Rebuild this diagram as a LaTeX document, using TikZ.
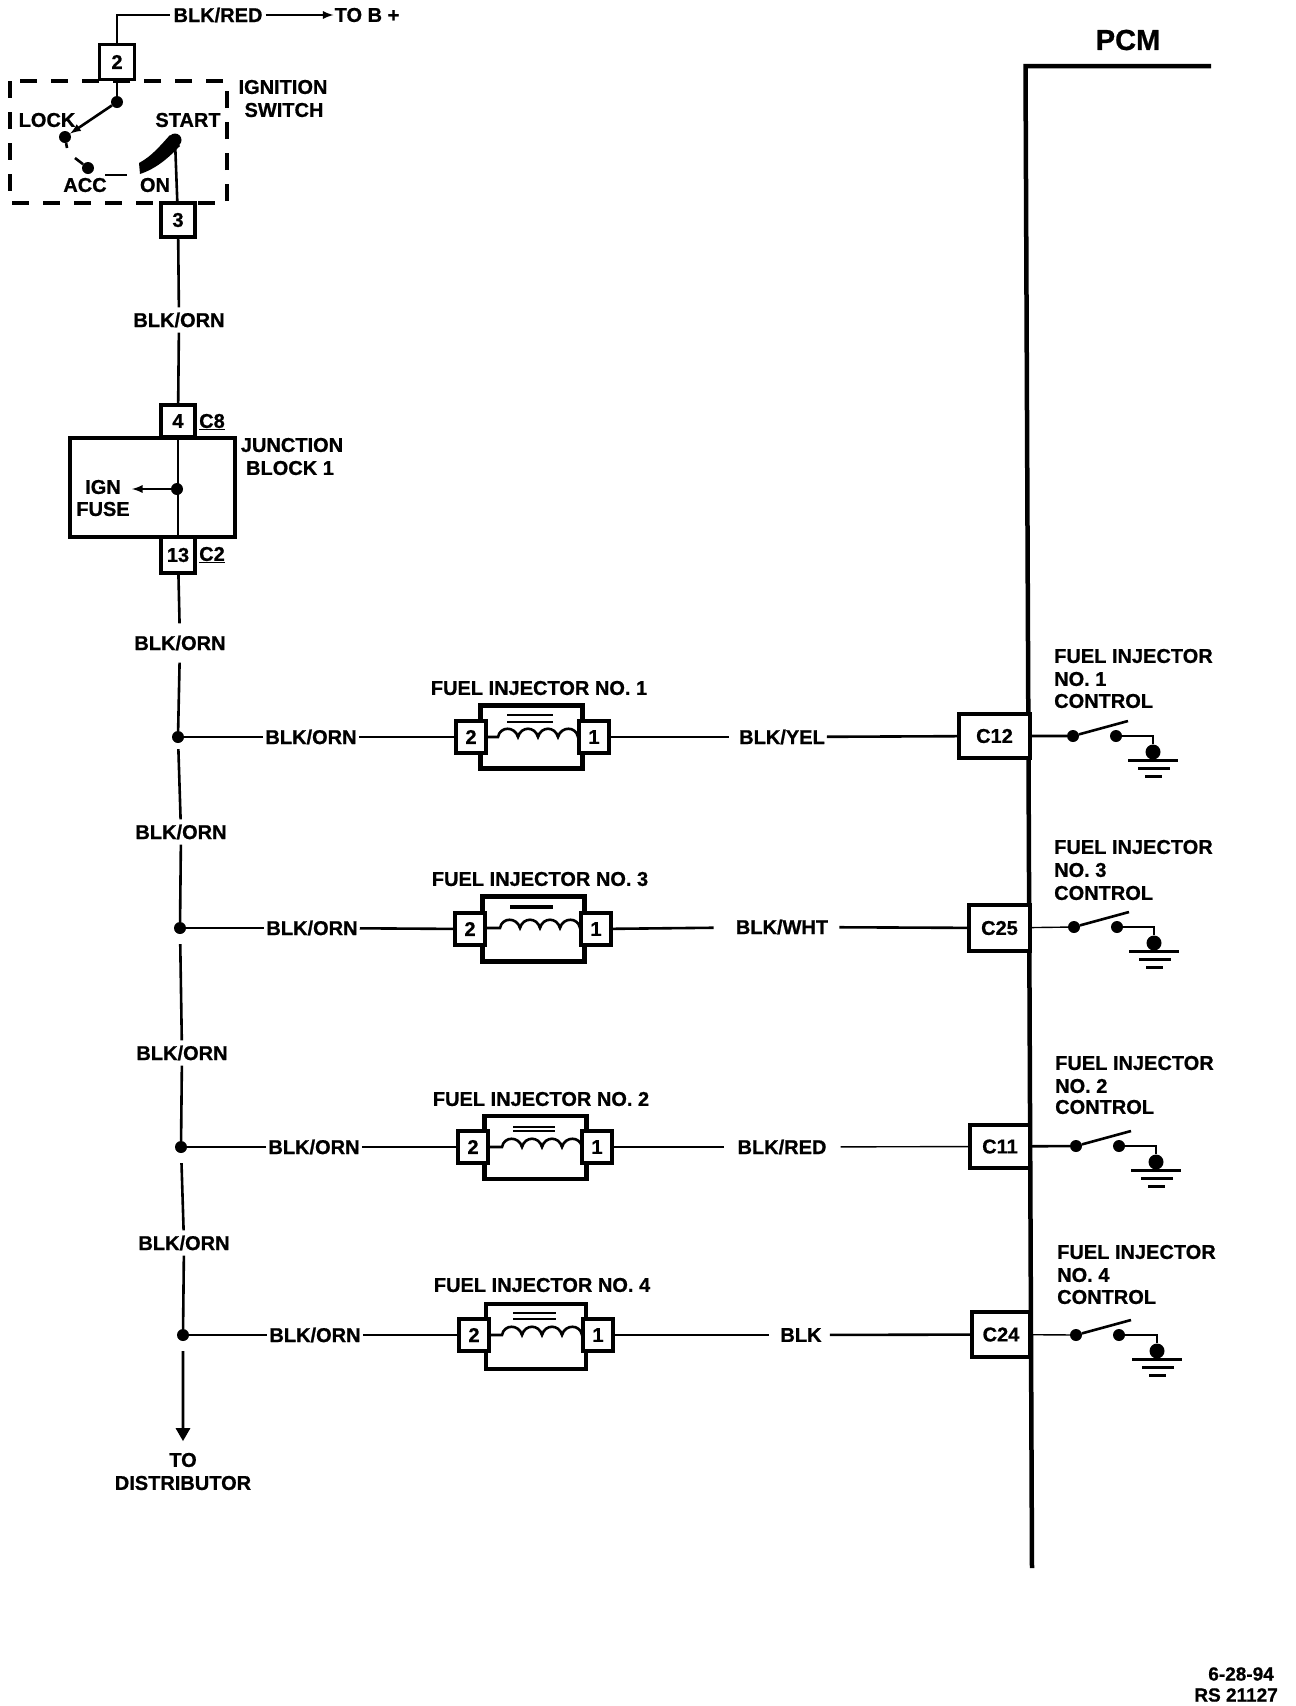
\documentclass[tikz,border=0pt]{standalone}
\usepackage{fontspec}
\setmainfont{Liberation Sans}[BoldFeatures={FakeBold=0.8}]
\usetikzlibrary{arrows,positioning}

\tikzset{
    coil/.pic={
        \draw [line width=2.6pt] (0,0) -- (17,0)
            .. controls +(2,-11) and +(-3,-11) .. ++(20,0)
            .. controls +(3,-11) and +(-3,-11) .. ++(20,0)
            .. controls +(3,-11) and +(-3,-11) .. ++(20,0)
            .. controls +(3,-11) and +(-2,-11) .. ++(20,0) -- (102,0);
    }
}

\begin{document}
\begin{tikzpicture}[%
    >=triangle 60,
    x=1pt,
    y=-1pt,
    every node/.style={font={\fontsize{20}{22}\bfseries\selectfont}, inner sep=3pt},
    wire/.style={line width=2.6pt},
    thinwire/.style={line width=1.4pt},
    pin/.style={draw, line width=3.5pt, fill=white, inner sep=0pt, minimum width=#1, minimum height=32},
    pin/.default=30,
    body/.style={draw, line width=4.5pt, fill=white, inner sep=0pt, minimum width=102, minimum height=63},
    ecm/.style={draw, line width=4pt, fill=white, inner sep=0pt, minimum height=44},
    dot/.style={circle, fill=black, inner sep=0pt, minimum size=#1},
    dot/.default=12,
    ctrl/.style={anchor=west, inner sep=0pt},
    gnd/.style={line width=3pt}
    ]

    \useasboundingbox (0,0) rectangle (1296,1706);

    % PCM
    \node at (1128,40) [font={\fontsize{29}{32}\bfseries\selectfont}] (pcm) {PCM};
    \coordinate (pcmtr) at (1211,66);
    \coordinate (pcmtl) at (1025.5,66);
    \coordinate (pcmbot) at (1032,1568);
    \draw [line width=4.5pt] (pcmtr) -- (pcmtl) -- (pcmbot);

    % ignition switch
    \node at (117,62) [pin={35}, minimum height=35] (pintwo) {2};
    \coordinate (topbend) at (117,15);
    \node at (218,15) (blkred) {BLK/RED};
    \node at (367,15) [inner sep=1pt] (tob) {TO B +};
    \draw [wire] (pintwo) -- (topbend) -- (blkred);
    \draw [wire, ->, >=latex] (blkred) -- (tob);
    \draw [line width=4pt, dash pattern=on 17pt off 14pt] (10,81) rectangle (227,203);
    \node at (283,87) (ign) {IGNITION};
    \node at (284,110) (swi) {SWITCH};
    \node at (47,120) [inner sep=0pt] (lock) {LOCK};
    \node at (188,120) [inner sep=0pt] (start) {START};
    \node at (85,185) [inner sep=0pt] (acc) {ACC};
    \node at (155,185) [inner sep=0pt] (on) {ON};
    \node at (117,102) [dot] (swtop) {};
    \node at (65,137) [dot] (swlock) {};
    \node at (88,168) [dot] (swacc) {};
    \node at (175,140) [dot=13] (swstart) {};
    \coordinate (acctick) at (75,158);
    \coordinate (locktick) at (67,148);
    \coordinate (onleft) at (105,175);
    \coordinate (onright) at (127,175);
    \draw [wire] (117,80) -- (swtop);
    \draw [wire, ->, >=latex] (swtop) -- (swlock);
    \draw [wire] (swlock) -- (locktick);
    \draw [wire] (swacc) -- (acctick);
    \draw [wire] (onleft) -- (onright);
    \fill (139,163) .. controls (152,156) and (160,146) .. (170,135) -- (180,146) .. controls (170,156) and (158,168) .. (140,174) -- cycle;
    \node at (178,220) [pin={34}, minimum height=34] (pinthree) {3};
    \draw [wire] (swstart) -- (pinthree);

    % junction block
    \node at (152.5,487.5) [draw, line width=4pt, inner sep=0pt, minimum width=165, minimum height=99] (jblock) {};
    \node at (178,421) [pin={34}, minimum height=32] (pinfour) {4};
    \node at (178,555) [pin={34}, minimum height=36] (pinthirteen) {13};
    \node at (212,422) [inner sep=0pt] (ceight) {\underline{C8}};
    \node at (212,555) [inner sep=0pt] (ctwo) {\underline{C2}};
    \node at (292,445) (junc) {JUNCTION};
    \node at (290,468) (blockone) {BLOCK 1};
    \node at (103,487) [inner sep=0pt] (ignf) {IGN};
    \node at (103,509) [inner sep=0pt] (fuse) {FUSE};
    \node at (177,489) [dot=12] (jdot) {};
    \coordinate (fuseend) at (132,489);
    \draw [wire] (pinfour) -- (pinthirteen);
    \draw [wire, ->, >=latex] (jdot) -- (fuseend);
    \node at (179,320) [inner sep=5pt] (orna) {BLK/ORN};
    \node at (180,643) [inner sep=12pt] (ornb) {BLK/ORN};
    \draw [wire] (pinthree) -- (orna);
    \draw [wire] (orna) -- (pinfour);
    \draw [wire] (pinthirteen) -- (ornb);

    % bus
    \node at (178,737) [dot] (busa) {};
    \node at (180,928) [dot] (busb) {};
    \node at (181,1147) [dot] (busc) {};
    \node at (183,1335) [dot] (busd) {};
    \node at (181,832) [inner sep=5pt] (ornc) {BLK/ORN};
    \node at (182,1053) [inner sep=5pt] (ornd) {BLK/ORN};
    \node at (184,1243) [inner sep=5pt] (orne) {BLK/ORN};
    \node at (183,1460) [inner sep=0pt] (todist) {TO};
    \node at (183,1483) [inner sep=0pt] (dist) {DISTRIBUTOR};
    \coordinate (disttip) at (183,1441);
    \draw [wire, shorten <=6pt] (ornb) -- (busa) -- (ornc);
    \draw [wire, shorten <=10pt] (ornc) -- (busb) -- (ornd);
    \draw [wire, shorten <=10pt] (ornd) -- (busc) -- (orne);
    \draw [wire, ->, shorten <=10pt] (orne) -- (busd) -- (disttip);

    % injector 1
    \node at (539,688) (lblinja) {FUEL INJECTOR NO. 1};
    \node at (531.5,737) [body] (inja) {};
    \pic at (481,737) {coil};
    \node at (471,737) [pin] (pinatwo) {2};
    \node at (594,737) [pin] (pinaone) {1};
    \draw [line width=2.5pt] (507,715) -- (553,715) (507,722) -- (553,722);
    \node at (311,737) [inner sep=2pt] (ornwa) {BLK/ORN};
    \node at (782,737) [inner sep=2pt] (yel) {BLK/YEL};
    \node at (994.5,736) [ecm, minimum width=71] (cta) {C12};
    \draw [wire] (busa) -- (ornwa);
    \draw [thinwire] (ornwa) -- (pinatwo);
    \draw [wire, shorten >=8pt] (pinaone) -- (yel);
    \draw [wire] (yel) -- (cta);
    \node at (1054,656) [ctrl] (ctla) {FUEL INJECTOR};
    \node at (1054,679) [ctrl] (ctlb) {NO. 1};
    \node at (1054,701) [ctrl] (ctlc) {CONTROL};
    \node at (1073,736) [dot] (swaa) {};
    \node at (1116,736) [dot] (swab) {};
    \node at (1153,752) [dot=15] (gnda) {};
    \coordinate (armtipa) at (1128,721);
    \draw [wire] (cta) -- (swaa) -- (armtipa);
    \draw [wire] (swab) -| (gnda);
    \draw [gnd] (1128,760) -- (1178,760) (1138,768) -- (1170,768) (1145,776) -- (1162,776);

    % injector 3
    \node at (540,879) (lblinjb) {FUEL INJECTOR NO. 3};
    \node at (533.5,929) [body, minimum height=65] (injb) {};
    \pic at (483,928) {coil};
    \node at (470,929) [pin] (pinbtwo) {2};
    \node at (596,929) [pin] (pinbone) {1};
    \draw [line width=3.5pt] (510,907) -- (553,907);
    \node at (312,928) [inner sep=2pt] (ornwb) {BLK/ORN};
    \node at (782,927) [inner sep=2pt] (wht) {BLK/WHT};
    \node at (999.5,928) [ecm, minimum width=61, minimum height=46] (ctb) {C25};
    \draw [wire] (busb) -- (ornwb);
    \draw [wire] (ornwb) -- (pinbtwo);
    \draw [wire, shorten >=20pt] (pinbone) -- (wht);
    \draw [wire, shorten <=9pt] (wht) -- (ctb);
    \node at (1054,847) [ctrl] (ctld) {FUEL INJECTOR};
    \node at (1054,870) [ctrl] (ctle) {NO. 3};
    \node at (1054,893) [ctrl] (ctlf) {CONTROL};
    \node at (1074,927) [dot] (swba) {};
    \node at (1117,927) [dot] (swbb) {};
    \node at (1154,943) [dot=15] (gndb) {};
    \coordinate (armtipb) at (1129,912);
    \draw [thinwire] (ctb) -- (swba);
    \draw [wire] (swba) -- (armtipb);
    \draw [wire] (swbb) -| (gndb);
    \draw [gnd] (1129,951) -- (1179,951) (1139,959) -- (1171,959) (1146,967) -- (1163,967);

    % injector 2
    \node at (541,1099) (lblinjc) {FUEL INJECTOR NO. 2};
    \node at (535.5,1147.5) [body, minimum height=63] (injc) {};
    \pic at (485,1147) {coil};
    \node at (473,1147) [pin] (pinctwo) {2};
    \node at (597,1147) [pin] (pincone) {1};
    \draw [line width=2pt] (513,1127) -- (555,1127) (513,1131) -- (555,1131);
    \node at (314,1147) [inner sep=2pt] (ornwc) {BLK/ORN};
    \node at (782,1147) [inner sep=2pt] (redb) {BLK/RED};
    \node at (1000,1146.5) [ecm, minimum width=60, minimum height=43] (ctc) {C11};
    \draw [thinwire] (busc) -- (ornwc);
    \draw [wire] (ornwc) -- (pinctwo);
    \draw [wire, shorten >=11pt] (pincone) -- (redb);
    \draw [thinwire, shorten <=12pt] (redb) -- (ctc);
    \node at (1055,1063) [ctrl] (ctlg) {FUEL INJECTOR};
    \node at (1055,1086) [ctrl] (ctlh) {NO. 2};
    \node at (1055,1107) [ctrl] (ctli) {CONTROL};
    \node at (1076,1146) [dot] (swca) {};
    \node at (1119,1146) [dot] (swcb) {};
    \node at (1156,1162) [dot=15] (gndc) {};
    \coordinate (armtipc) at (1131,1131);
    \draw [wire] (ctc) -- (swca) -- (armtipc);
    \draw [wire] (swcb) -| (gndc);
    \draw [gnd] (1131,1170) -- (1181,1170) (1141,1178) -- (1173,1178) (1148,1186) -- (1165,1186);

    % injector 4
    \node at (542,1285) (lblinjd) {FUEL INJECTOR NO. 4};
    \node at (536,1336.5) [body, minimum width=100, minimum height=65] (injd) {};
    \pic at (485,1335) {coil};
    \node at (474,1335) [pin] (pindtwo) {2};
    \node at (598,1335) [pin] (pindone) {1};
    \draw [line width=2pt] (513,1313) -- (556,1313) (513,1319) -- (556,1319);
    \node at (315,1335) [inner sep=2pt] (ornwd) {BLK/ORN};
    \node at (801,1335) [inner sep=2pt] (blk) {BLK};
    \node at (1001,1334.5) [ecm, minimum width=58, minimum height=45] (ctd) {C24};
    \draw [wire] (busd) -- (ornwd);
    \draw [wire] (ornwd) -- (pindtwo);
    \draw [wire, shorten >=9pt] (pindone) -- (blk);
    \draw [wire, shorten <=6pt] (blk) -- (ctd);
    \node at (1057,1252) [ctrl] (ctlj) {FUEL INJECTOR};
    \node at (1057,1275) [ctrl] (ctlk) {NO. 4};
    \node at (1057,1297) [ctrl] (ctll) {CONTROL};
    \node at (1076,1335) [dot] (swda) {};
    \node at (1119,1335) [dot] (swdb) {};
    \node at (1157,1351) [dot=15] (gndd) {};
    \coordinate (armtipd) at (1131,1320);
    \draw [thinwire] (ctd) -- (swda);
    \draw [wire] (swda) -- (armtipd);
    \draw [wire] (swdb) -| (gndd);
    \draw [gnd] (1132,1359) -- (1182,1359) (1142,1367) -- (1174,1367) (1149,1375) -- (1166,1375);

    % date stamp
    \node at (1274,1674) [anchor=east, inner sep=0pt, font={\fontsize{19}{20}\bfseries\selectfont}] (stamp) {6-28-94};
    \node at (1278,1695) [anchor=east, inner sep=0pt, font={\fontsize{19}{20}\bfseries\selectfont}] (rsno) {RS 21127};
\end{tikzpicture}
\end{document}
